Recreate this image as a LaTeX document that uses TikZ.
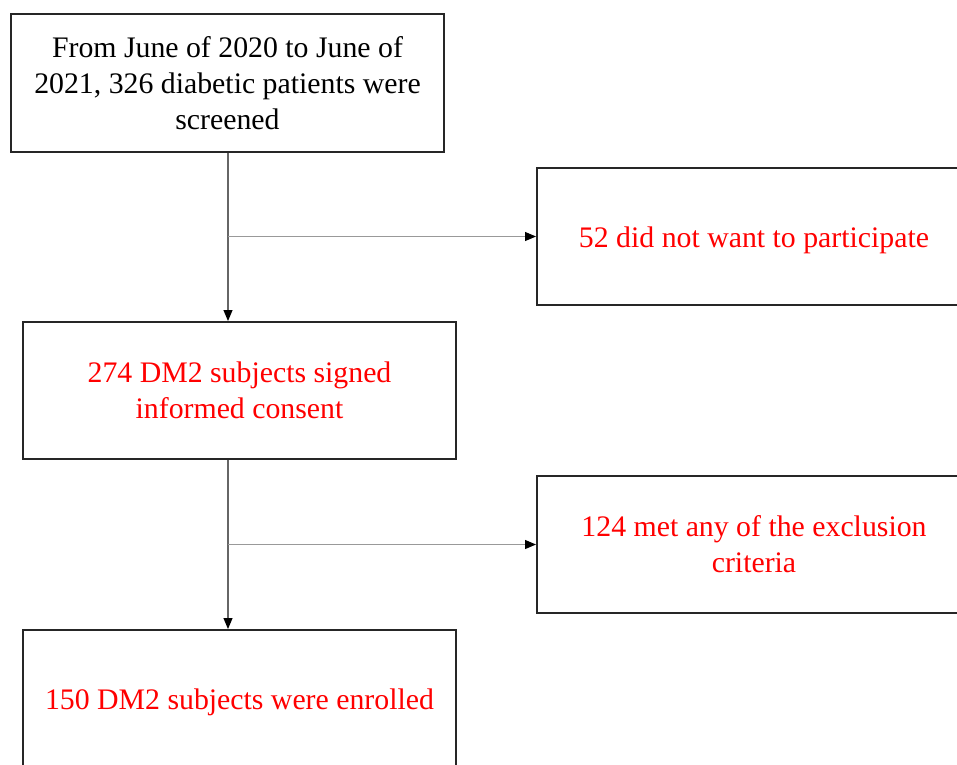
\documentclass[tikz,border=0pt]{standalone}
\usepackage{fontspec}
\setmainfont{Liberation Serif}
\usetikzlibrary{arrows.meta}
\definecolor{flowred}{RGB}{255,0,0}
\tikzset{
  flowbox/.style={draw=black!85, line width=2pt, rectangle, minimum width=433pt,
    minimum height=137pt, align=center, inner sep=0pt,
    font=\fontsize{29.8pt}{36pt}\selectfont},
  oneline/.style={text height=28pt, text depth=7pt},
  redtext/.style={text=flowred},
  link/.style={draw=black!60, line width=1.1pt,
    -{Triangle[length=11pt,width=9pt,color=black]}},
}
\begin{document}
\begin{tikzpicture}[x=1pt,y=-1pt]
\useasboundingbox (0,0) rectangle (957,764);
\clip (0,0) rectangle (957,764);
\fill[white] (0,0) rectangle (957,764);

\node[flowbox, minimum height=138pt] (screen) at (227.5,83)
  {From June of 2020 to June of\\2021, 326 diabetic patients were\\screened};
\node[flowbox, redtext, oneline, minimum width=434pt] (decline) at (754,236.5)
  {52 did not want to participate};
\node[flowbox, redtext] (consent) at (239.5,390.5)
  {274 DM2 subjects signed\\informed consent};
\node[flowbox, redtext, minimum width=434pt] (exclude) at (754,544.5)
  {124 met any of the exclusion\\criteria};
\node[flowbox, redtext, oneline] (enrol) at (239.5,698.5)
  {150 DM2 subjects were enrolled};

% branch points on the main vertical lines
\coordinate (j1) at ([xshift=0.5pt]screen.south |- decline.west);
\coordinate (j2) at ([xshift=0.5pt]screen.south |- exclude.west);

\draw[link] ([xshift=0.5pt]screen.south) -- ([xshift=0.5pt]screen.south |- consent.north);
\draw[link, draw=black!40] (j1) -- (decline.west);
\draw[link] ([xshift=0.5pt]screen.south |- consent.south) -- ([xshift=0.5pt]screen.south |- enrol.north);
\draw[link, draw=black!40] (j2) -- (exclude.west);
\end{tikzpicture}
\end{document}
